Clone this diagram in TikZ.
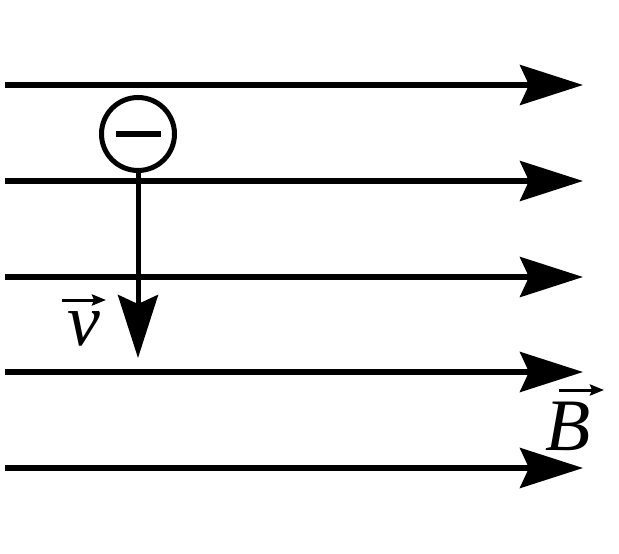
\documentclass[tikz,border=0pt]{standalone}
\usepackage{fontspec}
\setmainfont{Liberation Serif}
\usetikzlibrary{arrows.meta}
\begin{document}
\begin{tikzpicture}[x=1pt,y=-1pt,
  fieldline/.style={line width=5.5pt,-{Stealth[length=63pt,width=40pt,inset=9pt]}},
  vecbig/.style={line width=5pt,-{Stealth[length=63pt,width=40pt,inset=9pt]}},
  vecsmall/.style={line width=3pt,-{Stealth[length=14pt,width=11pt,inset=2pt]}},
  lab/.style={inner sep=0pt,font=\fontsize{74}{74}\selectfont\itshape},
  charge/.style={circle,draw,line width=5pt,minimum size=73pt,inner sep=0pt}]
\useasboundingbox (0,0) rectangle (619,554);
\foreach \i/\y in {1/85,2/181,3/277,4/372,5/468}{
  \coordinate (s\i) at (5,\y);
  \coordinate (t\i) at (583,\y);
  \draw[fieldline] (s\i) -- (t\i);
}
\node[charge] (e) at (138,134) {\rule[-2.75pt]{45pt}{5.5pt}};
\coordinate (vtip) at (138,358);
\draw[vecbig] (e.south) -- (vtip);
\node[lab,anchor=base] (v) at (84,345) {v};
\coordinate (va) at (62,300);
\coordinate (vb) at (106,300);
\draw[vecsmall] (va) -- (vb);
\node[lab,anchor=base] (B) at (568,450) {B};
\coordinate (ba) at (559,390);
\coordinate (bb) at (604,390);
\draw[vecsmall] (ba) -- (bb);
\end{tikzpicture}
\end{document}
